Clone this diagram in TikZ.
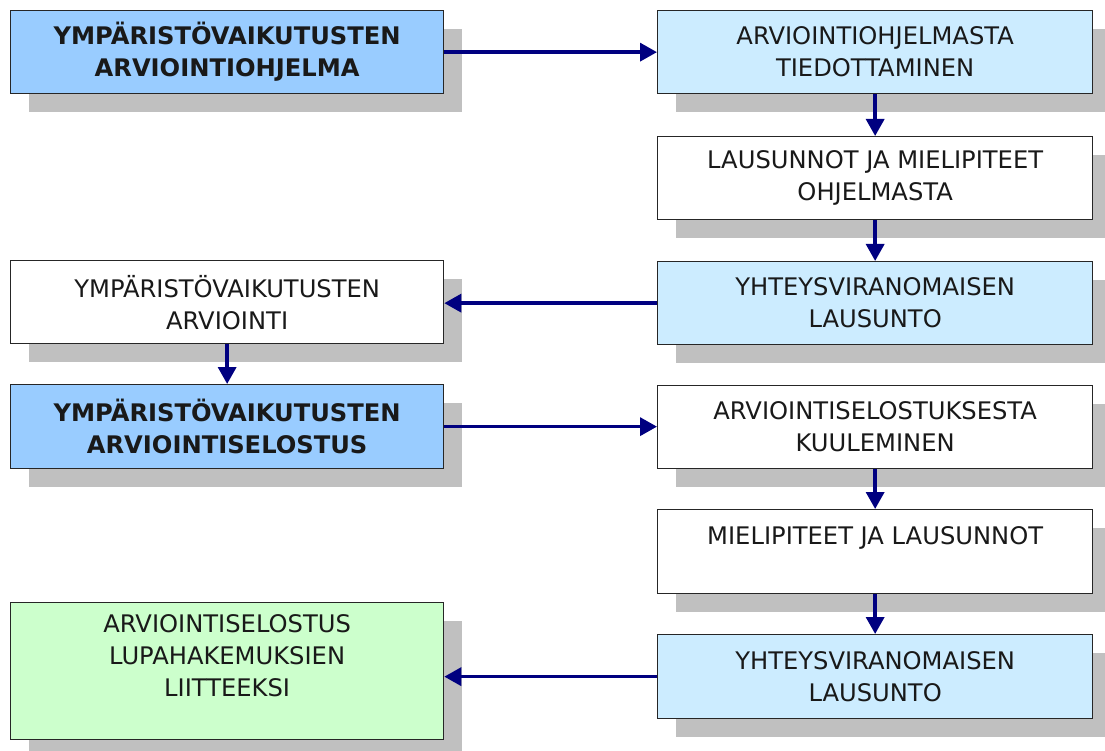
\documentclass[tikz,border=0pt]{standalone}
\usepackage{fontspec}
\setmainfont{DejaVu Sans}
\usetikzlibrary{arrows.meta,shadows}
\definecolor{boxblue}{HTML}{99CCFF}
\definecolor{boxlight}{HTML}{CCECFF}
\definecolor{boxgreen}{HTML}{CCFFCC}
\definecolor{shadowgray}{HTML}{C0C0C0}
\definecolor{arrowblue}{HTML}{000080}
\tikzset{
  box/.style={draw=black!85, line width=1.3pt, anchor=north west, align=center,
    inner sep=0pt, text=black!90,
    font=\fontsize{24.2}{32}\selectfont,
    general shadow={fill=shadowgray, shadow xshift=18pt, shadow yshift=-18pt}},
  wbox/.style={box, fill=white, minimum width=435pt, minimum height=83pt},
  lbox/.style={box, minimum width=433pt, minimum height=83pt},
  boldtext/.style={font=\fontsize{24.2}{32}\selectfont\bfseries},
  flow/.style={draw=arrowblue, line width=3.5pt, -{Triangle[length=17pt,width=18pt]}}
}
\begin{document}
\begin{tikzpicture}[x=1pt,y=-1pt]
\useasboundingbox (0,0) rectangle (1105,751);
% left column
\node[lbox, fill=boxblue, boldtext] (l1) at (10,10) {YMPÄRISTÖVAIKUTUSTEN\\ARVIOINTIOHJELMA};
\node[lbox, fill=white] (l2) at (10,260) {YMPÄRISTÖVAIKUTUSTEN\\ARVIOINTI};
\node[lbox, fill=boxblue, minimum height=84pt, boldtext] (l3) at (10,384) {YMPÄRISTÖVAIKUTUSTEN\\ARVIOINTISELOSTUS};
\node[lbox, fill=boxgreen, minimum height=137pt] (l4) at (10,602) {ARVIOINTISELOSTUS\\LUPAHAKEMUKSIEN\\LIITTEEKSI\\\mbox{}};
% right column
\node[wbox, fill=boxlight] (r1) at (657,10) {ARVIOINTIOHJELMASTA\\TIEDOTTAMINEN};
\node[wbox] (r2) at (657,136) {LAUSUNNOT JA MIELIPITEET\\OHJELMASTA};
\node[wbox, fill=boxlight] (r3) at (657,261) {YHTEYSVIRANOMAISEN\\LAUSUNTO};
\node[wbox] (r4) at (657,385) {ARVIOINTISELOSTUKSESTA\\KUULEMINEN};
\node[wbox, minimum height=84pt] (r5) at (657,509) {MIELIPITEET JA LAUSUNNOT\\\mbox{}};
\node[wbox, fill=boxlight, minimum height=84pt] (r6) at (657,634) {YHTEYSVIRANOMAISEN\\LAUSUNTO};
% connectors
\draw[flow] (l1.east) -- (r1.west);
\draw[flow] (r1.south) -- (r2.north);
\draw[flow] (r2.south) -- (r3.north);
\draw[flow] (r3.west) -- (r3.west -| l2.east);
\draw[flow] (l2.south) -- (l3.north);
\draw[flow] (l3.east) -- (l3.east -| r4.west);
\draw[flow] (r4.south) -- (r5.north);
\draw[flow] (r5.south) -- (r6.north);
\draw[flow] (r6.west) -- (r6.west -| l4.east);
\end{tikzpicture}
\end{document}
